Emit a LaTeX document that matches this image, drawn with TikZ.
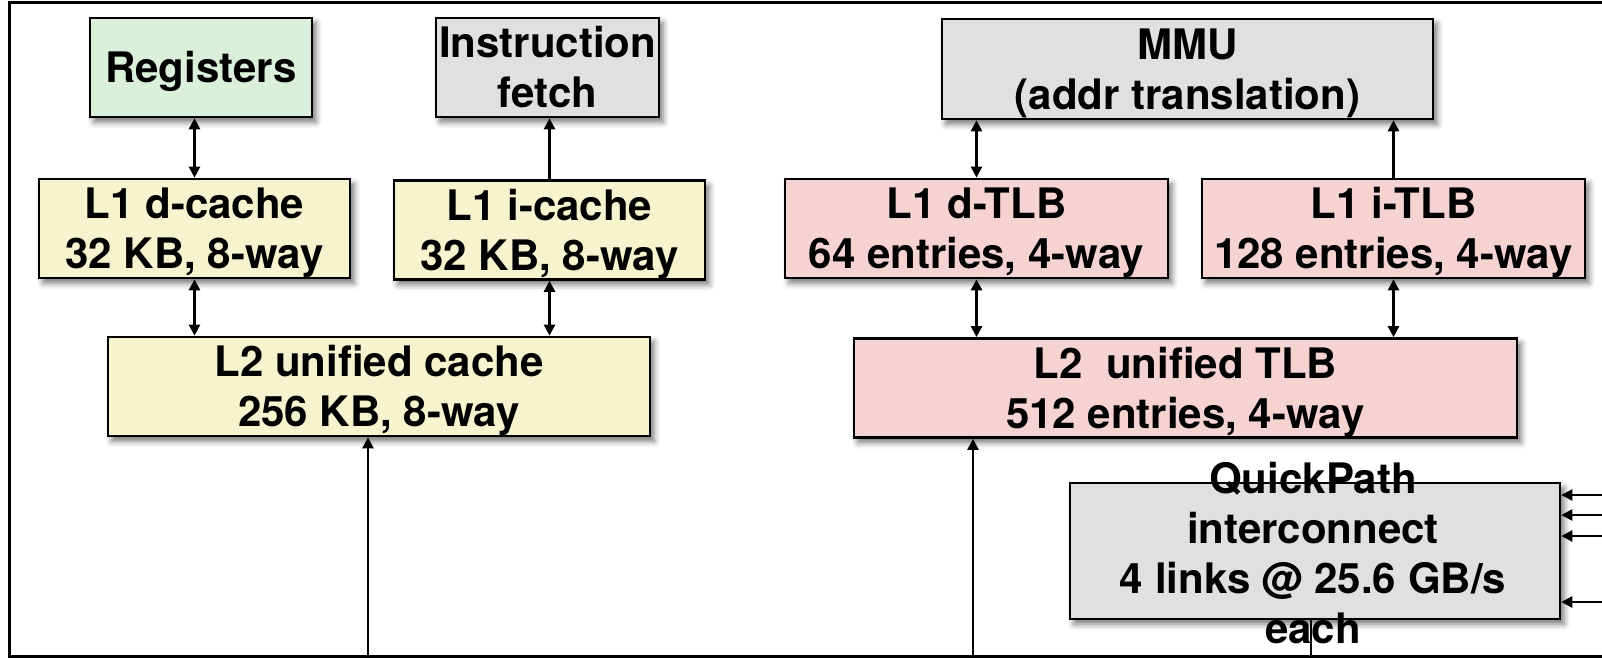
\documentclass[tikz,border=0pt]{standalone}
\usepackage{fontspec}
\setmainfont{TeX Gyre Heros}
\usetikzlibrary{arrows.meta,shadows.blur}
\definecolor{regfill}{HTML}{DAF0DA}
\definecolor{cachefill}{HTML}{F6F4CE}
\definecolor{tlbfill}{HTML}{F5D3D3}
\definecolor{unitfill}{HTML}{E0E0E0}
% taller first line, so the text sits a little lower in its box
\newcommand{\topstrut}{\rule{0pt}{40pt}}
\tikzset{
  unit/.style={draw=black, line width=2.5pt, inner sep=0pt, align=center,
    font=\fontsize{42}{50}\selectfont\bfseries,
    blur shadow={shadow xshift=4pt, shadow yshift=-5pt, shadow blur radius=6pt, shadow opacity=55}},
  unitlabel/.style={inner sep=0pt, align=center, font=\fontsize{42}{50}\selectfont\bfseries},
  tip/.tip={Triangle[length=11pt,width=11pt]},
  link/.style={line width=2.5pt, tip-tip},
  uplink/.style={line width=2.5pt, -tip},
  wire/.style={line width=2.5pt},
}
\begin{document}
\begin{tikzpicture}[x=1pt,y=-1pt]
\useasboundingbox (0,0) rectangle (1602,658);
\clip (0,0) rectangle (1602,658);
% core boundary
\draw[line width=3pt] (1620,3) -- (9,3) -- (9,656) -- (1620,656);

% caches
\node[unit, fill=regfill, minimum width=222pt, minimum height=99pt] (reg) at (201,67.5) {\topstrut Registers};
\node[unit, fill=unitfill, minimum width=223pt, minimum height=99pt] (ifetch) at (547.5,67.5) {Instruction\\fetch};
\node[unit, fill=cachefill, minimum width=311pt, minimum height=99pt] (l1d) at (194.5,228.5) {\topstrut L1 d-cache\\32 KB, 8-way};
\node[unit, fill=cachefill, minimum width=311pt, minimum height=98pt] (l1i) at (549.5,230) {\topstrut L1 i-cache\\32 KB, 8-way};
\node[unit, fill=cachefill, minimum width=542pt, minimum height=99pt] (l2) at (379,386.5) {\topstrut L2 unified cache\\256 KB, 8-way};

% address translation
\node[unit, fill=unitfill, minimum width=491pt, minimum height=100pt] (mmu) at (1187.5,69) {\topstrut MMU\\(addr translation)};
\node[unit, fill=tlbfill, minimum width=383pt, minimum height=99pt] (l1dtlb) at (976.5,228.5) {\topstrut L1 d-TLB\\64 entries, 4-way};
\node[unit, fill=tlbfill, minimum width=383pt, minimum height=99pt] (l1itlb) at (1393.5,228.5) {\topstrut L1 i-TLB\\128 entries, 4-way};
\node[unit, fill=tlbfill, minimum width=663pt, minimum height=98pt] (l2tlb) at (1185.5,388) {\topstrut L2\ \ unified TLB\\512 entries, 4-way};

% interconnect
\node[unit, fill=unitfill, minimum width=490pt, minimum height=136pt] (qpi) at (1315,551) {};
\node[unitlabel] (qpitext) at (1313,553) {QuickPath\\interconnect\\4 links @ 25.6 GB/s\\each};

% loose ends at the boundary
\coordinate (l2in) at (368,656);
\coordinate (l2tlbin) at (973,656);
\coordinate (qpiout) at (1311,656);
\coordinate (q1) at (1610,495);
\coordinate (q2) at (1610,515);
\coordinate (q3) at (1610,536);
\coordinate (q4) at (1610,602);

% connectors
\draw[link] (reg.south -| l1d.north) -- (l1d.north);
\draw[uplink] (l1i.north) -- (ifetch.south -| l1i.north);
\draw[link] (l1d.south) -- (l2.north -| l1d.south);
\draw[link] (l1i.south) -- (l2.north -| l1i.south);
\draw[uplink] (l2in) -- (l2in |- l2.south);

\draw[link] (mmu.south -| l1dtlb.north) -- (l1dtlb.north);
\draw[uplink] (l1itlb.north) -- (mmu.south -| l1itlb.north);
\draw[link] (l1dtlb.south) -- (l2tlb.north -| l1dtlb.south);
\draw[link] (l1itlb.south) -- (l2tlb.north -| l1itlb.south);
\draw[uplink] (l2tlbin) -- (l2tlbin |- l2tlb.south);

\draw[uplink] (q1) -- (q1 -| qpi.east);
\draw[uplink] (q2) -- (q2 -| qpi.east);
\draw[uplink] (q3) -- (q3 -| qpi.east);
\draw[uplink] (q4) -- (q4 -| qpi.east);
\draw[wire] (qpi.south -| qpiout) -- (qpiout);
\end{tikzpicture}
\end{document}
